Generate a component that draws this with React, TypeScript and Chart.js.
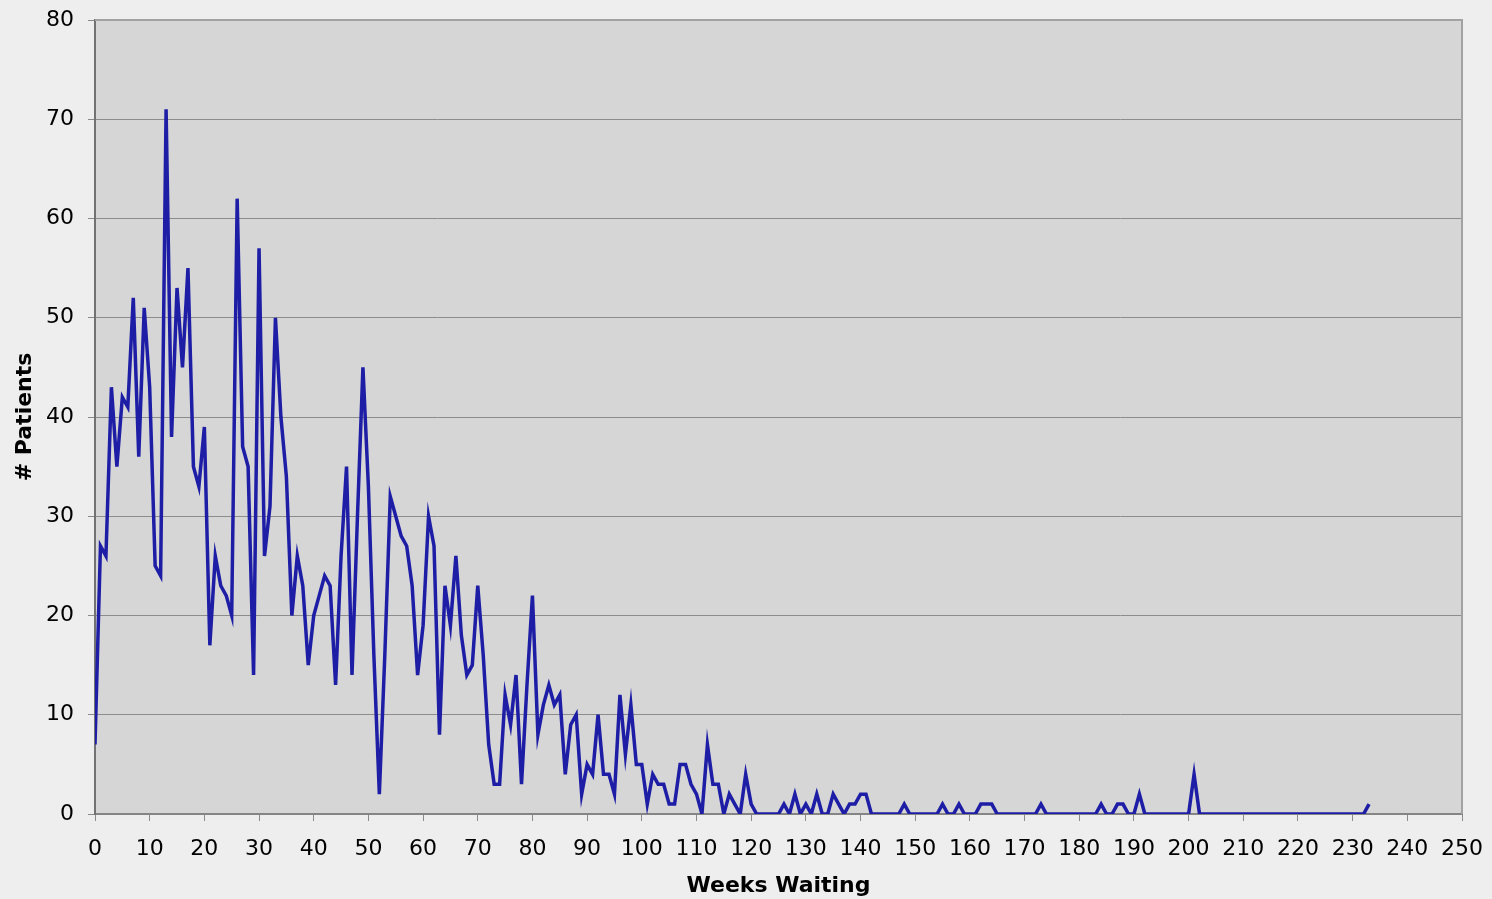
import React, { useEffect, useRef } from "react";
import { Chart, registerables } from "chart.js";

Chart.register(...registerables);

// # Patients by weeks waiting (index = week, starting at week 0)
const patients: number[] = [
  7, 27, 26, 43, 35, 42, 41, 52, 36, 51,
  43, 25, 24, 71, 38, 53, 45, 55, 35, 33,
  39, 17, 26, 23, 22, 20, 62, 37, 35, 14,
  57, 26, 31, 50, 40, 34, 20, 26, 23, 15,
  20, 22, 24, 23, 13, 26, 35, 14, 30, 45,
  33, 16, 2, 16, 32, 30, 28, 27, 23, 14,
  19, 30, 27, 8, 23, 19, 26, 18, 14, 15,
  23, 16, 7, 3, 3, 12, 9, 14, 3, 13,
  22, 8, 11, 13, 11, 12, 4, 9, 10, 2,
  5, 4, 10, 4, 4, 2, 12, 6, 11, 5,
  5, 1, 4, 3, 3, 1, 1, 5, 5, 3,
  2, 0, 7, 3, 3, 0, 2, 1, 0, 4,
  1, 0, 0, 0, 0, 0, 1, 0, 2, 0,
  1, 0, 2, 0, 0, 2, 1, 0, 1, 1,
  2, 2, 0, 0, 0, 0, 0, 0, 1, 0,
  0, 0, 0, 0, 0, 1, 0, 0, 1, 0,
  0, 0, 1, 1, 1, 0, 0, 0, 0, 0,
  0, 0, 0, 1, 0, 0, 0, 0, 0, 0,
  0, 0, 0, 0, 1, 0, 0, 1, 1, 0,
  0, 2, 0, 0, 0, 0, 0, 0, 0, 0,
  0, 4, 0, 0, 0, 0, 0, 0, 0, 0,
  0, 0, 0, 0, 0, 0, 0, 0, 0, 0,
  0, 0, 0, 0, 0, 0, 0, 0, 0, 0,
  0, 0, 0, 1,
];

const xTitle = "Weeks Waiting";
const yTitle = "# Patients";
const xMin = 0;
const xMax = 250;
const xStep = 10;
const yMin = 0;
const yMax = 80;
const yStep = 10;

const FONT = "'DejaVu Sans', Verdana, sans-serif";

const plotFrame = {
  id: "plotFrame",
  beforeDraw(chart: any) {
    const { ctx, chartArea } = chart;
    const { left, top, width, height } = chartArea;
    ctx.save();
    ctx.fillStyle = "#d6d6d6";
    ctx.fillRect(left, top, width, height);
    ctx.restore();
  },
  beforeDatasetsDraw(chart: any) {
    const { ctx, chartArea } = chart;
    const { left, top, right, bottom } = chartArea;
    ctx.save();
    ctx.strokeStyle = "#a2a2a2";
    ctx.lineWidth = 2;
    ctx.beginPath();
    ctx.moveTo(left, top);
    ctx.lineTo(right, top);
    ctx.lineTo(right, bottom);
    ctx.stroke();
    ctx.restore();
  },
};

export default function App() {
  const canvasRef = useRef<HTMLCanvasElement | null>(null);

  useEffect(() => {
    const canvas = canvasRef.current;
    if (!canvas) return;
    const points = patients.map((v, i) => ({ x: i, y: v }));
    const chart = new Chart(canvas, {
      type: "line",
      data: {
        datasets: [
          {
            data: points,
            borderColor: "#1d1da6",
            borderWidth: 3.5,
            pointRadius: 0,
            tension: 0,
            fill: false,
          },
        ],
      },
      options: {
        animation: false,
        responsive: false,
        maintainAspectRatio: false,
        layout: { padding: { top: 20, right: 30, left: 0, bottom: 0 } },
        plugins: {
          legend: { display: false },
          tooltip: { enabled: false },
        },
        scales: {
          x: {
            type: "linear",
            min: xMin,
            max: xMax,
            ticks: {
              stepSize: xStep,
              color: "#000",
              font: { family: FONT, size: 22 },
              padding: 15,
              maxRotation: 0,
              autoSkip: false,
            },
            grid: {
              drawOnChartArea: false,
              drawTicks: true,
              tickLength: 7,
              tickColor: "#8a8a8a",
              lineWidth: 1,
            },
            border: { display: true, color: "#858585", width: 2 },
            title: {
              display: true,
              text: xTitle,
              color: "#000",
              font: { family: FONT, size: 22, weight: "bold" },
              padding: { top: 0, bottom: 0 },
            },
            afterFit(scale: any) {
              scale.height = 85;
              scale.paddingLeft = 0;
              scale.paddingRight = 0;
            },
          },
          y: {
            type: "linear",
            min: yMin,
            max: yMax,
            ticks: {
              stepSize: yStep,
              color: "#000",
              font: { family: FONT, size: 22 },
              padding: 14,
            },
            grid: {
              color: "#8c8c8c",
              lineWidth: 1,
              drawTicks: true,
              tickLength: 7,
              tickColor: "#8a8a8a",
            },
            border: { display: true, color: "#727272", width: 2 },
            title: {
              display: true,
              text: yTitle,
              color: "#000",
              font: { family: FONT, size: 22, weight: "bold" },
              padding: { top: 12, bottom: 0 },
            },
            afterFit(scale: any) {
              scale.width = 95;
              scale.paddingTop = 0;
              scale.paddingBottom = 0;
            },
          },
        },
      },
      plugins: [plotFrame],
    });
    return () => chart.destroy();
  }, []);

  return (
    <div
      style={{
        position: "fixed",
        left: 0,
        top: 0,
        width: 1492,
        height: 899,
        background: "#eeeeee",
      }}
    >
      <canvas ref={canvasRef} width={1492} height={899} style={{ display: "block" }} />
    </div>
  );
}
